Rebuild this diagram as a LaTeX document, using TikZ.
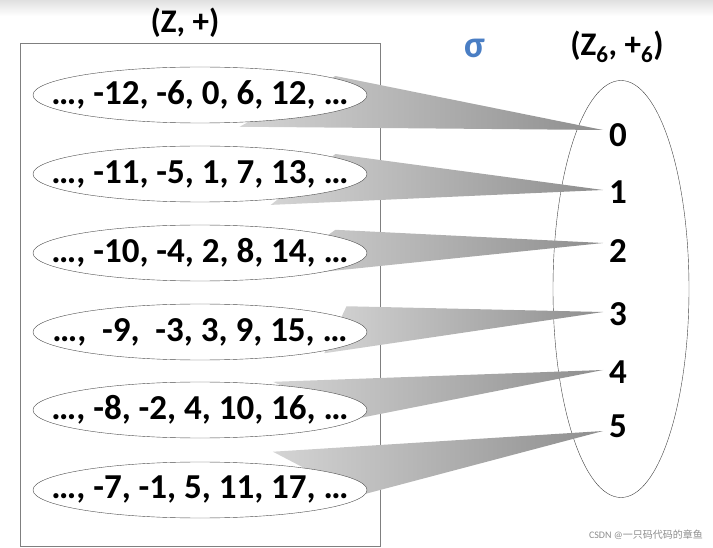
\documentclass[tikz,border=0pt]{standalone}
\usepackage{fontspec}
\setmainfont{Carlito}
\newfontfamily\cjkfont{Noto Sans CJK SC}
\usepackage{xcolor}
\usetikzlibrary{shapes.geometric,calc}
\definecolor{SigmaBlue}{HTML}{4A7EC4}
\definecolor{FrameGray}{HTML}{7F7F7F}
\definecolor{WedgeLight}{HTML}{D4D4D4}
\definecolor{WedgeDark}{HTML}{8E8E8E}

\begin{document}
\begin{tikzpicture}[x=1pt,y=-1pt,
  cls/.style={draw=black!70,ellipse,fill=white,minimum width=334pt,minimum height=56pt,inner xsep=-45pt,inner ysep=-6pt,font=\bfseries\fontsize{35}{37}\selectfont},
  elem/.style={font=\bfseries\fontsize{35}{37}\selectfont,inner sep=0pt},
  ttl/.style={font=\bfseries\fontsize{33}{35}\selectfont,inner sep=0pt},
  wedge/.style={left color=WedgeLight,right color=WedgeDark}
]
\useasboundingbox (0,0) rectangle (713,548);
\shade[top color=black!12,bottom color=white] (0,0) rectangle (713,16);
\node[ttl] (zplus) at (185,23) {(Z, +)};
\draw[FrameGray,line width=0.9pt] (20,43) rectangle (380,546);
\node[ttl] (zsixtitle) at (617,47) {(Z\textsubscript{6}, +\textsubscript{6})};
\node[font=\bfseries\fontsize{38}{40}\selectfont,text=SigmaBlue,inner sep=0pt] (sigma) at (475,48) {σ};
\node[draw=black!75,ellipse,minimum width=136pt,minimum height=417pt,inner sep=0pt] (zsix) at (621,289) {};
% wedges behind the cosets
\foreach \i/\ty/\ta/\tb/\fa/\fb/\ny in {0/130/85/128/1.2/1.63/135,1/190/160/200/1.2/1.49/192,2/243/232/266/1.2/1.5/251,3/312/307/345/1.15/1.25/314,4/370/378/414/1.48/1.1/372,5/431/445/490/1.48/1.1/426}{
  \coordinate (t\i) at (603,\ty);
  \coordinate (a\i) at (380,\ta);
  \coordinate (b\i) at (380,\tb);
  \shade[wedge] ($(t\i)!\fa!(a\i)$) -- (t\i) -- ($(t\i)!\fb!(b\i)$) -- cycle;
  \node[elem,anchor=west] (r\i) at (609,\ny) {\i};
}
\node[cls] (c0) at (200,95) {…, -12, -6, 0, 6, 12, …};
\node[cls] (c1) at (200,174) {…, -11, -5, 1, 7, 13, …};
\node[cls] (c2) at (200,253) {…, -10, -4, 2, 8, 14, …};
\node[cls] (c3) at (200,332) {…,\ \ -9,\ \ -3, 3, 9, 15, …};
\node[cls] (c4) at (200,410) {…, -8, -2, 4, 10, 16, …};
\node[cls] (c5) at (200,490) {…, -7, -1, 5, 11, 17, …};
\node[font=\fontsize{10}{12}\selectfont,text=black!45,anchor=east,inner sep=0pt] (mark) at (703,535) {CSDN @{\cjkfont 一只码代码的章鱼}};
\end{tikzpicture}
\end{document}
